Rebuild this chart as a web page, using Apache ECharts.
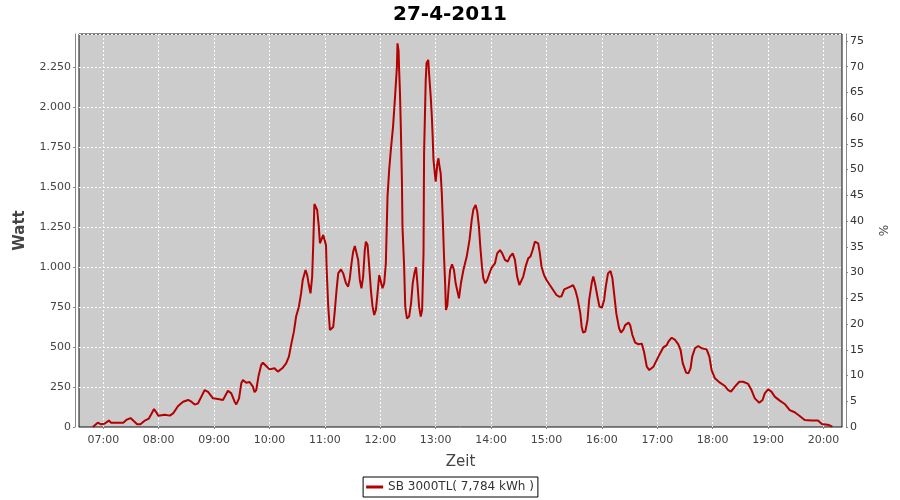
<!DOCTYPE html>
<html><head><meta charset="utf-8">
<script src="https://cdn.jsdelivr.net/npm/echarts@6/dist/echarts.min.js"></script>
<style>html,body{margin:0;padding:0;background:#fff}#c{width:900px;height:500px}</style>
</head><body><div id="c"></div>
<script>
const title = '27-4-2011';
const seriesName = 'SB 3000TL( 7,784 kWh )';
const hourTicks = [7,8,9,10,11,12,13,14,15,16,17,18,19,20];
// time in decimal hours
const times = [6.81,6.90,6.96,7.02,7.10,7.14,7.36,7.415,7.49,7.54,7.61,7.67,7.75,7.82,7.87,7.915,7.96,7.99,8.11,8.2,8.26,8.35,8.44,8.53,8.59,8.65,8.71,8.77,8.83,8.89,8.98,9.07,9.16,9.25,9.31,9.37,9.40,9.45,9.49,9.52,9.58,9.64,9.70,9.73,9.76,9.80,9.85,9.88,9.94,10.00,10.09,10.15,10.23,10.30,10.35,10.39,10.44,10.48,10.53,10.57,10.60,10.65,10.68,10.71,10.74,10.77,
10.79,10.81,10.83,10.86,10.89,10.91,10.94,10.97,11.00,11.02,11.03,11.06,11.09,11.12,11.15,11.18,11.21,11.24,11.29,11.33,11.38,11.42,11.45,11.48,11.51,11.54,11.57,11.60,11.63,11.66,11.69,11.72,11.74,11.77,11.80,11.83,11.86,11.89,11.92,11.95,11.98,12.01,12.04,12.07,12.10,12.13,12.16,12.19,12.23,12.27,12.30,12.31,12.33,12.34,12.355,12.37,12.39,12.40,12.43,12.45,12.48,12.52,12.555,12.585,12.615,12.645,12.67,12.70,12.73,12.755,12.78,12.79,12.82,12.835,12.865,12.88,12.91,12.93,12.945,12.96,12.99,13.00,13.03,13.05,13.06,13.09,13.11,13.13,13.15,13.17,
13.185,13.21,13.23,13.26,13.295,13.33,13.36,13.40,13.42,13.455,13.50,13.56,13.61,13.65,13.68,13.72,13.75,13.78,13.805,13.835,13.86,13.895,13.93,13.97,14.01,14.07,14.11,14.16,14.20,14.25,14.30,14.34,14.39,14.43,14.47,14.51,14.54,14.58,14.63,14.67,14.71,14.75,14.79,14.82,14.85,14.88,14.91,14.955,15.00,15.06,15.12,15.18,15.23,15.27,15.32,15.39,15.43,15.48,15.52,15.56,15.61,15.635,15.66,15.70,15.74,15.77,15.82,15.845,15.875,15.92,15.955,16.00,16.04,16.07,16.11,16.155,16.19,16.22,16.26,16.31,16.345,16.39,16.42,16.48,16.51,16.55,16.60,16.66,16.72,16.76,
16.81,16.855,16.93,17.02,17.11,17.17,17.20,17.26,17.32,17.38,17.42,17.46,17.52,17.56,17.60,17.63,17.68,17.74,17.80,17.89,17.94,17.98,18.04,18.13,18.22,18.28,18.33,18.40,18.48,18.55,18.64,18.70,18.76,18.84,18.90,18.94,19.00,19.06,19.12,19.21,19.30,19.39,19.48,19.57,19.66,19.78,19.90,19.97,20.10,20.16];
const watts = [0,27,17,20,40,27,27,44,56,40,17,17,40,52,83,112,90,71,77,71,85,131,158,169,158,140,148,190,231,220,179,175,169,227,210,158,141,179,273,294,277,281,252,217,231,315,388,402,381,360,367,346,367,398,440,513,596,690,752,835,919,981,950,887,835,940,
1150,1394,1394,1356,1252,1148,1137,1200,1210,1135,1002,752,606,596,625,731,856,960,985,960,898,877,930,1023,1096,1131,1127,1044,919,867,940,1106,1158,1137,1002,856,752,700,731,835,950,908,867,898,1023,1440,1606,1731,1877,2085,2252,2398,2350,2231,2085,1877,1544,1252,1002,752,679,690,773,898,960,998,898,752,690,731,1085,1710,2169,2273,2294,2210,2065,1940,1815,1669,1565,1533,1648,1679,1648,1585,1460,1273,1065,898,
731,760,856,981,1017,981,898,835,804,898,981,1065,1169,1294,1360,1388,1346,1252,1127,1002,929,898,919,960,996,1023,1085,1106,1085,1044,1033,1065,1085,1044,940,887,877,940,1012,1054,1065,1106,1158,1169,1148,1085,1002,950,919,887,856,825,814,817,860,871,877,887,856,804,710,627,590,596,669,794,908,940,898,814,752,746,794,877,960,975,929,835,710,617,590,610,637,652,637,575,527,517,521,470,
377,356,377,440,498,512,533,558,544,517,481,398,340,335,367,440,492,506,492,485,440,356,304,277,256,231,221,252,283,283,269,231,179,152,169,210,235,221,190,165,144,106,92,69,44,40,40,19,12,2];

const data = times.map((t, i) => [t, watts[i]]);
const font = 'DejaVu Sans';
const chart = echarts.init(document.getElementById('c'), null, {renderer: 'canvas'});
chart.setOption({
  animation: false,
  backgroundColor: '#fff',
  title: {text: title, left: 'center', top: 0, textStyle: {fontFamily: font, fontSize: 20, fontWeight: 'bold', color: '#000'}},
  legend: {data: [seriesName], top: 477, left: 'center', borderColor: '#000', borderWidth: 1, padding: [4, 4, 4, 3],
    itemWidth: 17, itemHeight: 3, icon: 'rect', itemGap: 4,
    textStyle: {fontFamily: font, fontSize: 12, color: '#333'}},
  grid: {left: 79, right: 58, top: 34, bottom: 73, show: true, backgroundColor: '#cccccc', borderColor: '#111', borderWidth: 1},
  xAxis: {type: 'value', min: 6.561, max: 20.334, offset: 4,
    name: 'Zeit', nameLocation: 'middle', nameGap: 24,
    nameTextStyle: {fontFamily: font, fontSize: 15, color: '#444'},
    axisLine: {show: true, lineStyle: {color: '#888'}},
    axisTick: {show: true, length: 2, lineStyle: {color: '#888'}, customValues: hourTicks},
    axisLabel: {customValues: hourTicks, fontFamily: font, fontSize: 11, color: '#444', margin: 4,
      formatter: v => (v < 10 ? '0' : '') + v + ':00'},
    splitLine: {show: true, lineStyle: {color: '#fff', type: [2, 2], width: 1}}},
  yAxis: [
    {type: 'value', min: 0, max: 2456, interval: 250, offset: 4, position: 'left',
      name: 'Watt', nameLocation: 'middle', nameGap: 47, nameRotate: 90,
      nameTextStyle: {fontFamily: font, fontSize: 15, fontWeight: 'bold', color: '#444'},
      axisLine: {show: true, lineStyle: {color: '#888'}},
      axisTick: {show: true, length: 2, lineStyle: {color: '#888'}},
      axisLabel: {fontFamily: font, fontSize: 11, color: '#444', margin: 4, showMaxLabel: false,
        formatter: v => v >= 1000 ? Math.floor(v / 1000) + '.' + String(v % 1000).padStart(3, '0') : String(v)},
      splitLine: {show: true, lineStyle: {color: '#fff', type: [2, 2], width: 1}}},
    {type: 'value', min: 0, max: 76.35, interval: 5, offset: 4, position: 'right',
      name: '%', nameLocation: 'middle', nameGap: 33, nameRotate: 90,
      nameTextStyle: {fontFamily: font, fontSize: 12, color: '#444'},
      axisLine: {show: true, lineStyle: {color: '#888'}},
      axisTick: {show: true, length: 2, lineStyle: {color: '#888'}},
      axisLabel: {fontFamily: font, fontSize: 11, color: '#333', margin: 4, showMaxLabel: false},
      splitLine: {show: false}}
  ],
  series: [{name: seriesName, type: 'line', data: data, yAxisIndex: 0, showSymbol: false, symbol: 'none',
    lineStyle: {color: '#b40000', width: 2}, itemStyle: {color: '#b40000'}}]
});
</script></body></html>
